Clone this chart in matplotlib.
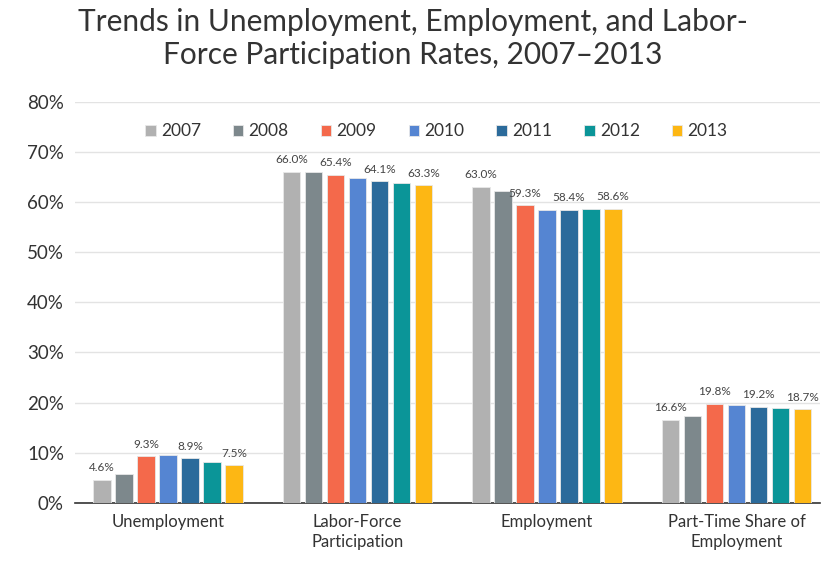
import matplotlib.pyplot as plt
import numpy as np

plt.rcParams['font.family'] = ['Lato', 'DejaVu Sans']

categories = ['Unemployment', 'Labor-Force\nParticipation', 'Employment',
              'Part-Time Share of\nEmployment']
years = ['2007', '2008', '2009', '2010', '2011', '2012', '2013']
colors = ['#b1b1b1', '#7d888c', '#f4694b', '#5585d2', '#2c6b9b', '#0b9598', '#fdb714']

unemployment = [4.6, 5.8, 9.3, 9.6, 8.9, 8.1, 7.5]
labor_force = [66.0, 66.0, 65.4, 64.7, 64.1, 63.7, 63.3]
employment = [63.0, 62.2, 59.3, 58.5, 58.4, 58.6, 58.6]
part_time = [16.6, 17.3, 19.8, 19.6, 19.2, 19.0, 18.7]

series = np.array([unemployment, labor_force, employment, part_time])

fig = plt.figure(figsize=(8.25, 5.65), dpi=100)
ax = fig.add_axes([0.091, 0.11, 0.903, 0.71])

x = np.arange(len(categories))
pitch = 0.116
width = 0.092
for i, year in enumerate(years):
    xs = x + (i - 3) * pitch
    vals = series[:, i]
    ax.bar(xs, vals, width, color=colors[i], edgecolor='#e8e8e8', linewidth=0.6,
           label=year, zorder=3)
    if i % 2 == 0:
        for xx, v in zip(xs, vals):
            ax.text(xx, v + 1.3, f'{v:.1f}%', ha='center', va='bottom',
                    fontsize=8.5, color='#444444')

ax.set_ylim(0, 80)
ax.set_xlim(-0.49, 3.44)
ax.set_yticks(range(0, 81, 10))
ax.set_yticklabels([f'{t}%' for t in range(0, 81, 10)], fontsize=13.5, color='#333333')
ax.set_xticks(x)
ax.set_xticklabels(categories, fontsize=12, color='#333333', linespacing=1.3)
ax.tick_params(axis='both', length=0, pad=8)
ax.yaxis.grid(True, color='#e3e3e3', linewidth=1, zorder=0)
for s in ['top', 'right', 'left']:
    ax.spines[s].set_visible(False)
ax.spines['bottom'].set_color('#333333')
ax.spines['bottom'].set_linewidth(1.2)

ax.legend(loc='upper center', bbox_to_anchor=(0.485, 0.985), ncol=7, frameon=False,
          fontsize=12.5, handlelength=0.6, handleheight=0.6, handletextpad=0.3,
          columnspacing=1.85, labelcolor='#333333')

fig.text(0.5, 0.985, 'Trends in Unemployment, Employment, and Labor-\nForce Participation Rates, 2007\u20132013',
         ha='center', va='top', fontsize=21.5, color='#333333', linespacing=1.2)

fig.savefig('out.png', dpi=100)
